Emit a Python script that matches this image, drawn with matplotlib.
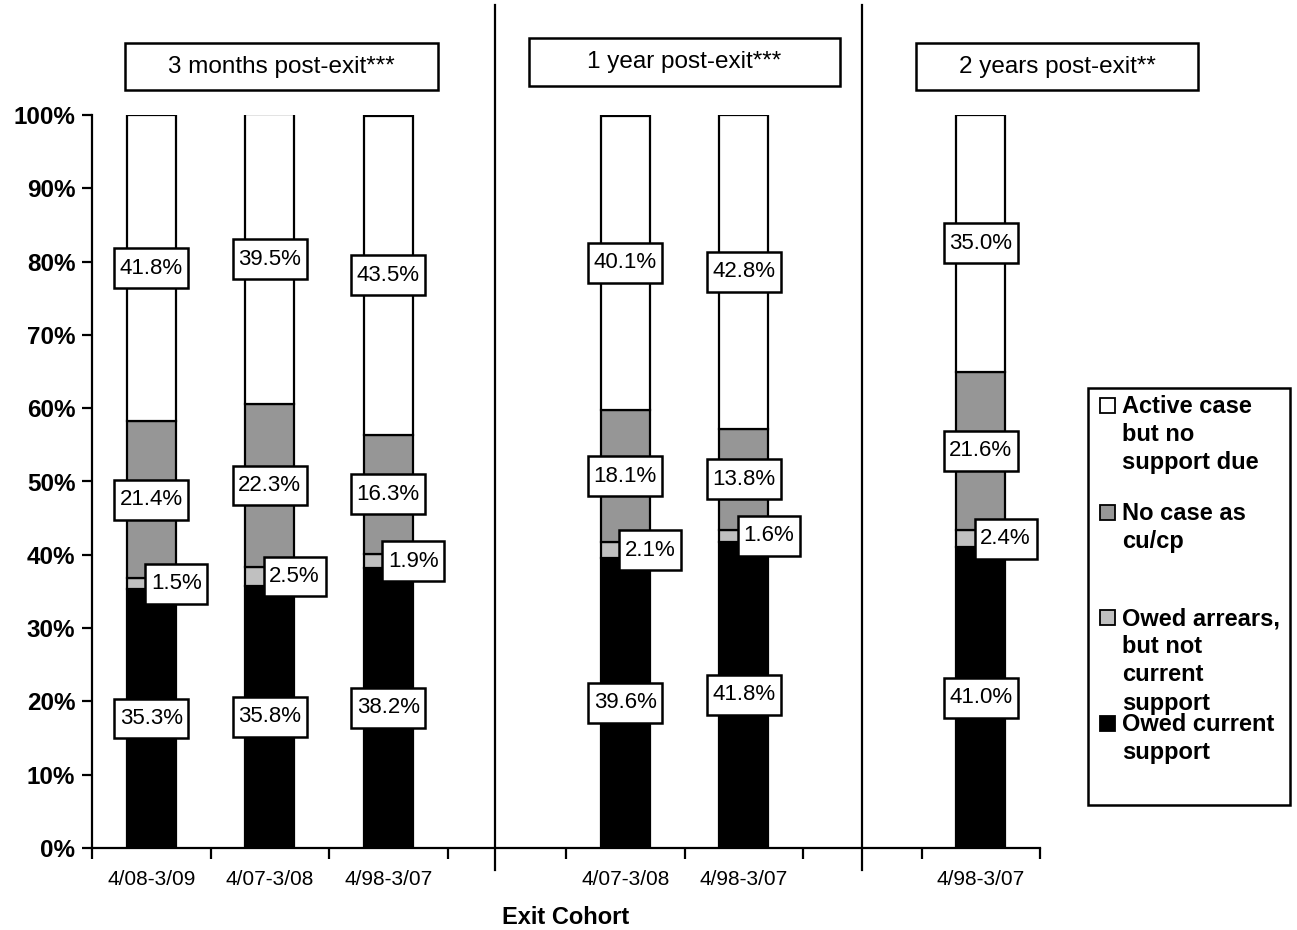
import numpy as np
import matplotlib
matplotlib.use('Agg')
import matplotlib.pyplot as plt
from matplotlib.patches import Rectangle
from matplotlib.path import Path

plt.rcParams['font.family'] = ['Liberation Sans', 'DejaVu Sans']

# exit cohorts, grouped by follow-up period
periods = ['3 months post-exit***', '1 year post-exit***', '2 years post-exit**']
cohorts = ['4/08-3/09', '4/07-3/08', '4/98-3/07', '4/07-3/08', '4/98-3/07', '4/98-3/07']

# shares (%) stacked bottom to top
owed_current = [35.3, 35.8, 38.2, 39.6, 41.8, 41.0]
owed_arrears = [1.5, 2.5, 1.9, 2.1, 1.6, 2.4]
no_case = [21.4, 22.3, 16.3, 18.1, 13.8, 21.6]
active_no_support = [41.8, 39.5, 43.5, 40.1, 42.8, 35.0]

series_names = ['Active case\nbut no\nsupport due', 'No case as\ncu/cp',
                'Owed arrears,\nbut not\ncurrent\nsupport', 'Owed current\nsupport']
colors = ['#000000', '#c0c0c0', '#969696', '#ffffff']

# slot of each bar on the category axis (blank slots separate the periods)
slots = np.array([0, 1, 2, 4, 5, 7])
xpos = slots + 0.5
n_slots = 8


def label_box(x0, y0, width, height, mutation_size):
    # square box, tighter left/right than top/bottom
    px, py = 0.25 * mutation_size, 0.42 * mutation_size
    x0, y0 = x0 - px, y0 - py
    x1, y1 = x0 + width + 2 * px, y0 + height + 2 * py
    return Path([(x0, y0), (x1, y0), (x1, y1), (x0, y1), (x0, y0)],
                [Path.MOVETO, Path.LINETO, Path.LINETO, Path.LINETO, Path.CLOSEPOLY])


fig = plt.figure(figsize=(12.97, 9.30), dpi=100)
W, H = 1297, 930
ax = fig.add_axes([92 / W, 1 - 848 / H, (1040 - 92) / W, (848 - 115) / H])

stack = [owed_current, owed_arrears, no_case, active_no_support]
bottom = np.zeros(len(cohorts))
box = dict(boxstyle=label_box, fc='white', ec='black', lw=1.8)
for i, (vals, c) in enumerate(zip(stack, colors)):
    vals = np.array(vals)
    ax.bar(xpos, vals, 0.41, bottom=bottom, color=c, edgecolor='black', linewidth=1.6, zorder=2)
    for x, b, v in zip(xpos, bottom, vals):
        if i == 1:
            ax.text(x + 0.21, b + v / 2, f'{v:.1f}%', ha='center', va='center',
                    fontsize=16, bbox=box, zorder=4)
        else:
            ax.text(x, b + v / 2, f'{v:.1f}%', ha='center', va='center',
                    fontsize=16, bbox=box, zorder=4)
    bottom = bottom + vals

ax.set_xlim(0, n_slots)
ax.set_ylim(0, 100)
ax.spines['top'].set_visible(False)
ax.spines['right'].set_visible(False)
for s in ['left', 'bottom']:
    ax.spines[s].set_linewidth(1.6)

ax.set_yticks(np.arange(0, 101, 10))
ax.set_yticklabels([f'{v}%' for v in range(0, 101, 10)], fontsize=17.5, fontweight='bold')
ax.tick_params(axis='y', direction='out', length=7, width=1.6, pad=5)

ax.set_xticks(np.arange(0, n_slots + 1))
ax.set_xticklabels([])
ax.tick_params(axis='x', which='major', direction='out', length=8, width=1.6)
ax.set_xticks(xpos, minor=True)
ax.set_xticklabels(cohorts, minor=True, fontsize=15)
ax.tick_params(axis='x', which='minor', length=0, pad=16)
ax.set_xlabel('Exit Cohort', fontsize=17, fontweight='bold', labelpad=12)

# vertical separators between follow-up periods
for sx in [3.4, 6.5]:
    ax.plot([sx, sx], [-3.0, 115.0], color='black', lw=1.6, clip_on=False, zorder=1)

# period headers
headers = [(125, 43, 438, 90), (529, 38, 840, 86), (916, 43, 1198, 90)]
for title, (x0, y0, x1, y1) in zip(periods, headers):
    fig.patches.append(Rectangle((x0 / W, 1 - y1 / H), (x1 - x0) / W, (y1 - y0) / H,
                                 transform=fig.transFigure, fc='white', ec='black', lw=1.8))
    fig.text((x0 + x1) / 2 / W, 1 - (y0 + y1) / 2 / H, title, ha='center', va='center',
             fontsize=17.5)

# legend
fig.patches.append(Rectangle((1088 / W, 1 - 805 / H), (1290 - 1088) / W, (805 - 388) / H,
                             transform=fig.transFigure, fc='white', ec='black', lw=1.8))
entry_y = [405, 512, 617, 723]
legend_colors = ['#ffffff', '#969696', '#c0c0c0', '#000000']
for name, c, y in zip(series_names, legend_colors, entry_y):
    fig.patches.append(Rectangle((1100 / W, 1 - (y + 7.5) / H), 15 / W, 15 / H,
                                 transform=fig.transFigure, fc=c, ec='black', lw=1.3))
    fig.text(1122 / W, 1 - (y - 10) / H, name, ha='left', va='top', fontsize=17,
             fontweight='bold', linespacing=1.29)

fig.savefig('out.png', dpi=100)
